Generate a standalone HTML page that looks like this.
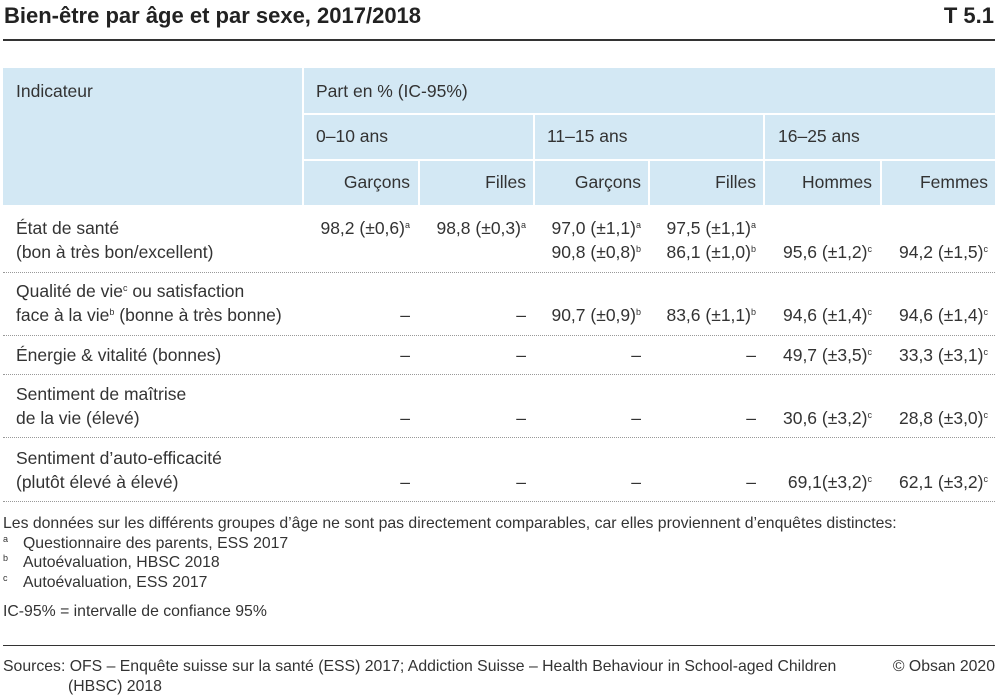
<!DOCTYPE html>
<html><head><meta charset="utf-8"><style>
body{margin:0;width:1000px;height:699px;position:relative;background:#fff;font-family:"Liberation Sans",sans-serif;color:#333;overflow:hidden}
.t{position:absolute;line-height:20px;font-size:17.5px;white-space:nowrap}
.r{text-align:right}
.h{position:absolute;background:#d3e8f4}
.dot{position:absolute;left:3px;width:992px;border-top:1px dotted #999;height:0}
sup{font-size:9px;vertical-align:6px;line-height:0}
.f{position:absolute;font-size:15.8px;line-height:20px;white-space:nowrap}
</style></head><body>
<div class="t" style="left:4px;top:3px;font-size:22px;line-height:26px;color:#222;font-weight:bold">Bien-être par âge et par sexe, 2017/2018</div>
<div class="t" style="right:6px;top:3px;font-size:22px;line-height:26px;color:#222;font-weight:bold">T 5.1</div>
<div style="position:absolute;left:3px;top:39px;width:992px;height:2px;background:#333"></div>

<div>
<div class="h" style="left:3px;top:68px;width:299px;height:137px"></div>
<div class="h" style="left:304px;top:68px;width:691px;height:45px"></div>
<div class="h" style="left:304px;top:115px;width:229px;height:44px"></div>
<div class="h" style="left:535px;top:115px;width:228px;height:44px"></div>
<div class="h" style="left:765px;top:115px;width:230px;height:44px"></div>
<div class="h" style="left:304px;top:161px;width:114px;height:44px"></div>
<div class="h" style="left:420px;top:161px;width:113px;height:44px"></div>
<div class="h" style="left:535px;top:161px;width:113px;height:44px"></div>
<div class="h" style="left:650px;top:161px;width:113px;height:44px"></div>
<div class="h" style="left:765px;top:161px;width:115px;height:44px"></div>
<div class="h" style="left:882px;top:161px;width:113px;height:44px"></div>
<div class="t" style="left:16px;top:81px">Indicateur</div>
<div class="t" style="left:316px;top:81px">Part en % (IC-95%)</div>
<div class="t" style="left:316px;top:126px">0–10 ans</div>
<div class="t" style="left:547px;top:126px">11–15 ans</div>
<div class="t" style="left:778px;top:126px">16–25 ans</div>
<div class="t r" style="right:590px;top:172px">Garçons</div>
<div class="t r" style="right:474px;top:172px">Filles</div>
<div class="t r" style="right:359px;top:172px">Garçons</div>
<div class="t r" style="right:244px;top:172px">Filles</div>
<div class="t r" style="right:128px;top:172px">Hommes</div>
<div class="t r" style="right:12px;top:172px">Femmes</div>
</div>

<div>
<div class="t" style="left:16px;top:218px">État de santé</div>
<div class="t" style="left:16px;top:242px">(bon à très bon/excellent)</div>
<div class="t r" style="right:590px;top:218px">98,2 (±0,6)<sup>a</sup></div>
<div class="t r" style="right:474px;top:218px">98,8 (±0,3)<sup>a</sup></div>
<div class="t r" style="right:359px;top:218px">97,0 (±1,1)<sup>a</sup></div>
<div class="t r" style="right:244px;top:218px">97,5 (±1,1)<sup>a</sup></div>
<div class="t r" style="right:359px;top:242px">90,8 (±0,8)<sup>b</sup></div>
<div class="t r" style="right:244px;top:242px">86,1 (±1,0)<sup>b</sup></div>
<div class="t r" style="right:128px;top:242px">95,6 (±1,2)<sup>c</sup></div>
<div class="t r" style="right:12px;top:242px">94,2 (±1,5)<sup>c</sup></div>
<div class="dot" style="top:272px"></div>

<div class="t" style="left:16px;top:281px">Qualité de vie<sup>c</sup> ou satisfaction</div>
<div class="t" style="left:16px;top:305px">face à la vie<sup>b</sup> (bonne à très bonne)</div>
<div class="t r" style="right:590px;top:305px">–</div>
<div class="t r" style="right:474px;top:305px">–</div>
<div class="t r" style="right:359px;top:305px">90,7 (±0,9)<sup>b</sup></div>
<div class="t r" style="right:244px;top:305px">83,6 (±1,1)<sup>b</sup></div>
<div class="t r" style="right:128px;top:305px">94,6 (±1,4)<sup>c</sup></div>
<div class="t r" style="right:12px;top:305px">94,6 (±1,4)<sup>c</sup></div>
<div class="dot" style="top:335px"></div>

<div class="t" style="left:16px;top:345px">Énergie &amp; vitalité (bonnes)</div>
<div class="t r" style="right:590px;top:345px">–</div>
<div class="t r" style="right:474px;top:345px">–</div>
<div class="t r" style="right:359px;top:345px">–</div>
<div class="t r" style="right:244px;top:345px">–</div>
<div class="t r" style="right:128px;top:345px">49,7 (±3,5)<sup>c</sup></div>
<div class="t r" style="right:12px;top:345px">33,3 (±3,1)<sup>c</sup></div>
<div class="dot" style="top:374px"></div>

<div class="t" style="left:16px;top:384px">Sentiment de maîtrise</div>
<div class="t" style="left:16px;top:408px">de la vie (élevé)</div>
<div class="t r" style="right:590px;top:408px">–</div>
<div class="t r" style="right:474px;top:408px">–</div>
<div class="t r" style="right:359px;top:408px">–</div>
<div class="t r" style="right:244px;top:408px">–</div>
<div class="t r" style="right:128px;top:408px">30,6 (±3,2)<sup>c</sup></div>
<div class="t r" style="right:12px;top:408px">28,8 (±3,0)<sup>c</sup></div>
<div class="dot" style="top:437px"></div>

<div class="t" style="left:16px;top:448px">Sentiment d’auto-efficacité</div>
<div class="t" style="left:16px;top:472px">(plutôt élevé à élevé)</div>
<div class="t r" style="right:590px;top:472px">–</div>
<div class="t r" style="right:474px;top:472px">–</div>
<div class="t r" style="right:359px;top:472px">–</div>
<div class="t r" style="right:244px;top:472px">–</div>
<div class="t r" style="right:128px;top:472px">69,1(±3,2)<sup>c</sup></div>
<div class="t r" style="right:12px;top:472px">62,1 (±3,2)<sup>c</sup></div>
<div class="dot" style="top:501px"></div>
</div>

<div>
<div class="f" style="left:3px;top:514px">Les données sur les différents groupes d’âge ne sont pas directement comparables, car elles proviennent d’enquêtes distinctes:</div>
<div class="f" style="left:3px;top:534px"><sup>a</sup></div><div class="f" style="left:23px;top:534px">Questionnaire des parents, ESS 2017</div>
<div class="f" style="left:3px;top:553px"><sup>b</sup></div><div class="f" style="left:23px;top:553px">Autoévaluation, HBSC 2018</div>
<div class="f" style="left:3px;top:573px"><sup>c</sup></div><div class="f" style="left:23px;top:573px">Autoévaluation, ESS 2017</div>
<div class="f" style="left:3px;top:602px">IC-95% = intervalle de confiance 95%</div>
</div>
<div style="position:absolute;left:3px;top:645px;width:992px;height:1px;background:#333"></div>
<div class="f" style="left:3px;top:657px">Sources: OFS – Enquête suisse sur la santé (ESS) 2017; Addiction Suisse – Health Behaviour in School-aged Children</div>
<div class="f" style="left:68px;top:677px">(HBSC) 2018</div>
<div class="f" style="right:5px;top:657px">© Obsan 2020</div>
</body></html>
